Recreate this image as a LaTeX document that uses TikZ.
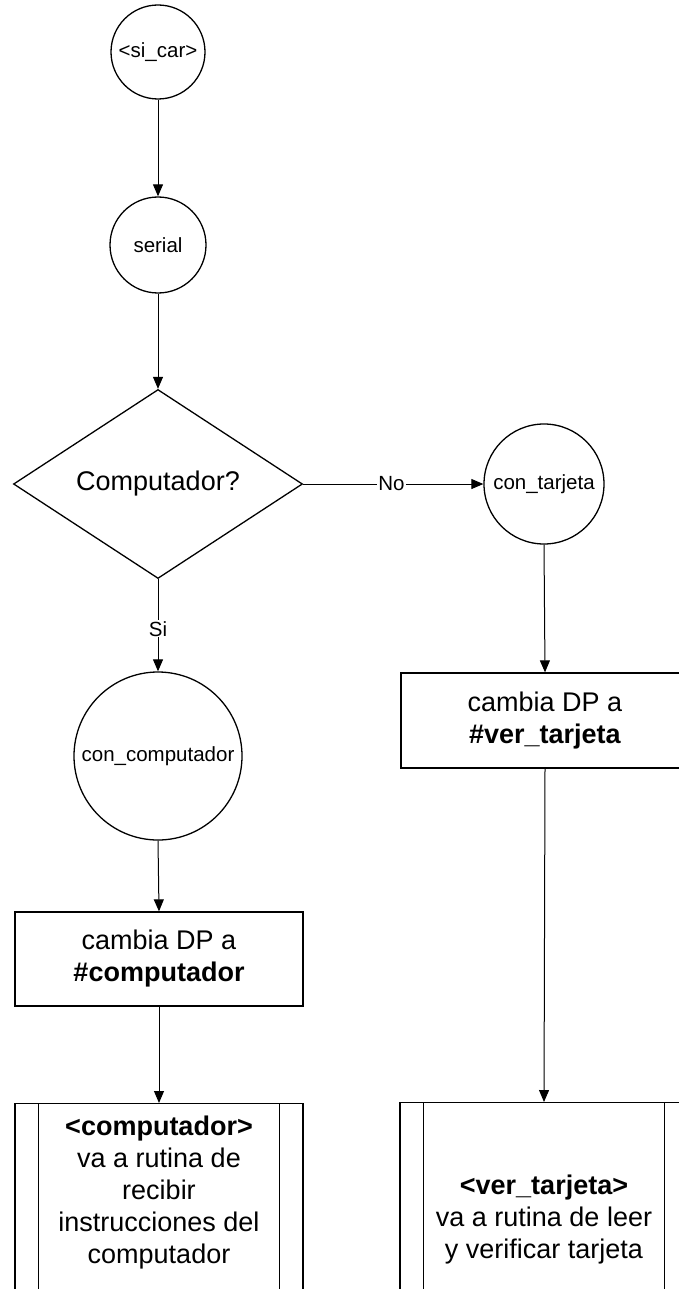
\documentclass[tikz,border=0pt]{standalone}
\usepackage{fontspec}
\setmainfont{Liberation Sans}
\usetikzlibrary{shapes.geometric,arrows.meta}
\tikzset{
  ln/.style={line width=1pt,draw=black},
  arr/.style={ln,-{Triangle[length=12pt,width=10pt]}},
  conn/.style={circle,draw,line width=1.3pt,inner sep=0pt,font=\smallfont},
  decision/.style={diamond,draw,line width=1.3pt,inner sep=0pt,font=\bigfont},
  actbox/.style={rectangle,draw,line width=1.3pt,inner sep=0pt,align=center,font=\bigfont},
  procbox/.style={rectangle,draw,line width=1.3pt,inner sep=0pt},
  lbl/.style={fill=white,inner sep=1pt,font=\smallfont},
  txt/.style={align=center,inner sep=0pt,font=\bigfont}
}
\newcommand{\bigfont}{\fontsize{27}{32}\selectfont}
\newcommand{\smallfont}{\fontsize{20.5}{24}\selectfont}
\begin{document}
\begin{tikzpicture}[x=1pt,y=-1pt]
\useasboundingbox (0,0) rectangle (679,1289);
\clip (0,0) rectangle (679,1289);
\fill[white] (0,0) rectangle (679,1289);

% entry and serial connectors
\node[conn,minimum size=94pt] (sicar) at (158,52) {<si\_car>};
\node[conn,minimum size=96pt] (serial) at (158,245) {serial};

% decision
\node[decision,minimum width=289pt,minimum height=189pt] (dec) at (158,484) {Computador?};

% branch connectors
\node[conn,minimum size=120pt] (tarj) at (544,484) {con\_tarjeta};
\node[conn,minimum size=168pt] (comp) at (158,756) {con\_computador};

% DP change boxes
\node[actbox,minimum width=288pt,minimum height=95pt] (dpt) at (545,720.5)
  {cambia DP a\\\textbf{\#ver\_tarjeta}};
\node[actbox,minimum width=288pt,minimum height=94pt] (dpc) at (159,959)
  {cambia DP a\\\textbf{\#computador}};

% predefined process boxes
\node[procbox,minimum width=288pt,minimum height=230pt,anchor=north] (pc) at (159,1103) {};
\node[procbox,minimum width=288pt,minimum height=230pt,anchor=north] (pt) at (544,1102) {};
\foreach \b in {pc,pt}{
  \draw[line width=1.3pt] ([xshift=24pt]\b.north west) -- ([xshift=24pt]\b.south west);
  \draw[line width=1.3pt] ([xshift=-24pt]\b.north east) -- ([xshift=-24pt]\b.south east);
}
\node[txt] (pctxt) at (159,1193)
  {\textbf{<computador>}\\va a rutina de\\recibir\\instrucciones del\\computador};
\node[txt] (pttxt) at (544,1220)
  {\textbf{<ver\_tarjeta>}\\va a rutina de leer\\y verificar tarjeta};

% connectors
\draw[arr] (sicar) -- (serial);
\draw[arr] (serial) -- (dec);
\draw[arr] (dec.east) -- node[lbl,pos=0.49] (no) {No} (tarj.west);
\draw[arr] (dec.south) -- node[lbl,pos=0.54] (si) {Si} (comp.north);
\draw[arr] (tarj.south) -- (dpt.north);
\draw[arr] (comp.south) -- (dpc.north);
\draw[arr] (dpc.south) -- (pc.north);
\draw[arr] (dpt.south) -- (pt.north);
\end{tikzpicture}
\end{document}
